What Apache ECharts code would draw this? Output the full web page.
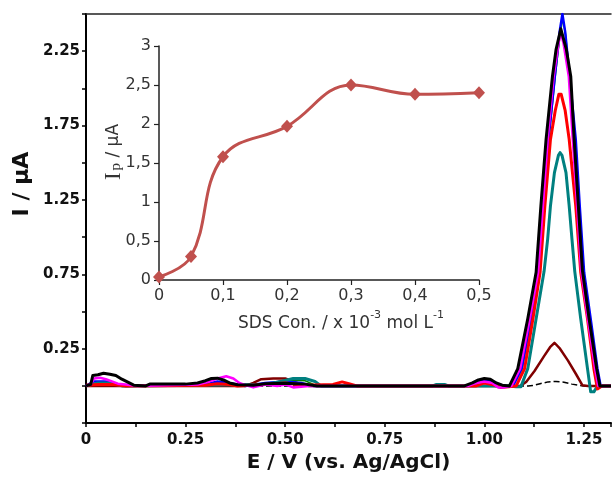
<!DOCTYPE html>
<html>
<head>
<meta charset="utf-8">
<script src="https://cdn.jsdelivr.net/npm/echarts@6/dist/echarts.min.js"></script>
<style>
  html, body { margin: 0; padding: 0; background: #fff; }
  #chart { width: 614px; height: 478px; }
</style>
</head>
<body>
<div id="chart"></div>
<script>
// Differential pulse voltammograms: [E / V, I / µA]
const scanBlank = [[0,0],[1.11,0],[1.121,0.002],[1.14,0.015],[1.16,0.027],[1.18,0.03],[1.2,0.025],[1.22,0.012],[1.235,0.005],[1.25,0],[1.318,0]];
const scanDarkRed = [[0,0],[0.4,0],[0.42,0.02],[0.44,0.045],[0.47,0.05],[0.5,0.05],[0.52,0.03],[0.54,0.01],[0.56,0],[1.09,0],[1.105,0.027],[1.126,0.1],[1.15,0.2],[1.165,0.26],[1.176,0.29],[1.19,0.25],[1.21,0.17],[1.23,0.08],[1.246,0.005],[1.26,0],[1.318,0]];
const scanGreen = [[0,0],[0.05,0.02],[0.1,0],[0.45,0.01],[0.5,0.04],[0.55,0.035],[0.58,0],[1.072,0],[1.095,0.116],[1.118,0.451],[1.138,0.764],[1.15,1.21],[1.162,1.657],[1.178,2.08],[1.19,2.36],[1.197,2.47],[1.204,2.36],[1.214,2.08],[1.228,1.657],[1.238,1.21],[1.249,0.764],[1.265,0.451],[1.282,0.116],[1.29,0],[1.318,0]];
const scanBlue = [[0,0],[0.02,0.03],[0.05,0.03],[0.08,0.01],[0.1,0],[0.3,0.01],[0.33,0.03],[0.36,0.02],[0.4,0],[0.45,0.02],[0.5,0.03],[0.54,0.02],[0.57,0],[0.96,0],[0.99,0.03],[1.01,0.035],[1.03,0.015],[1.05,0],[1.072,0],[1.094,0.116],[1.117,0.451],[1.137,0.764],[1.149,1.21],[1.161,1.657],[1.177,2.08],[1.189,2.38],[1.196,2.5],[1.203,2.38],[1.214,2.08],[1.2295,1.657],[1.2395,1.21],[1.2505,0.764],[1.267,0.451],[1.284,0.116],[1.292,0],[1.318,0]];
const scanTeal = [[0,0],[0.03,0.02],[0.06,0.02],[0.09,0],[0.45,0.01],[0.49,0.03],[0.52,0.05],[0.55,0.05],[0.575,0.03],[0.59,0],[0.87,0],[0.88,0.01],[0.9,0.01],[0.91,0],[1.06,0],[1.08,-0.005],[1.092,-0.005],[1.109,0.116],[1.13,0.451],[1.15,0.77],[1.159,0.987],[1.166,1.21],[1.176,1.434],[1.186,1.55],[1.19,1.568],[1.195,1.55],[1.205,1.434],[1.213,1.21],[1.22,0.987],[1.227,0.77],[1.242,0.451],[1.259,0.116],[1.267,-0.04],[1.275,-0.04],[1.284,0],[1.318,0]];
const scanRed = [[0,0.005],[0.03,0.01],[0.07,0.01],[0.1,0],[0.3,0.005],[0.33,0.015],[0.36,0.01],[0.38,0],[0.45,0.01],[0.5,0.02],[0.55,0.005],[0.62,0.01],[0.643,0.027],[0.66,0.015],[0.68,0],[0.98,0],[1.0,0.02],[1.02,0.01],[1.04,-0.01],[1.06,-0.005],[1.08,0],[1.101,0.116],[1.122,0.451],[1.14,0.764],[1.152,1.21],[1.166,1.657],[1.178,1.85],[1.187,1.96],[1.193,1.96],[1.203,1.85],[1.213,1.657],[1.2295,1.21],[1.242,0.764],[1.259,0.451],[1.275,0.116],[1.284,-0.02],[1.295,0],[1.318,0]];
const scanMagenta = [[0,0],[0.012,0.01],[0.02,0.05],[0.035,0.055],[0.05,0.045],[0.065,0.03],[0.08,0.015],[0.1,0.01],[0.13,0],[0.2,0.005],[0.28,0.01],[0.31,0.03],[0.33,0.05],[0.352,0.065],[0.37,0.05],[0.385,0.02],[0.4,0.005],[0.42,-0.01],[0.45,0.01],[0.48,0],[0.5,0.01],[0.52,-0.01],[0.56,0],[0.96,0],[0.98,0.02],[1.0,0.03],[1.02,0.02],[1.035,-0.01],[1.05,-0.01],[1.068,0],[1.09,0.116],[1.114,0.451],[1.135,0.764],[1.147,1.21],[1.159,1.657],[1.174,2.08],[1.186,2.3],[1.192,2.38],[1.199,2.3],[1.212,2.08],[1.222,1.657],[1.233,1.21],[1.243,0.78],[1.26,0.45],[1.278,0.116],[1.286,0],[1.318,0]];
const scanBlack = [[0,0],[0.012,0.01],[0.017,0.07],[0.03,0.075],[0.044,0.085],[0.06,0.078],[0.075,0.07],[0.09,0.045],[0.105,0.025],[0.12,0.005],[0.15,0],[0.16,0.012],[0.2,0.012],[0.25,0.012],[0.28,0.02],[0.3,0.035],[0.315,0.05],[0.33,0.052],[0.345,0.04],[0.36,0.02],[0.38,0.008],[0.42,0.005],[0.45,0.015],[0.5,0.018],[0.55,0.012],[0.58,0],[0.95,0],[0.97,0.02],[0.985,0.04],[1.0,0.05],[1.015,0.045],[1.03,0.02],[1.045,0.005],[1.063,0],[1.084,0.116],[1.109,0.451],[1.13,0.764],[1.142,1.21],[1.155,1.657],[1.171,2.08],[1.18,2.26],[1.192,2.4],[1.206,2.26],[1.217,2.08],[1.2255,1.657],[1.236,1.21],[1.246,0.78],[1.263,0.451],[1.282,0.116],[1.29,0],[1.318,0]];

// Peak current vs. SDS concentration (inset)
const sdsConc = [0, 0.05, 0.1, 0.2, 0.3, 0.4, 0.5];
const peakCurrent = [0.04, 0.30, 1.58, 1.97, 2.50, 2.38, 2.40];

// Tick labels
const mainXLabels = ['0', '0.25', '0.50', '0.75', '1.00', '1.25'];
const mainYLabels = ['0.25', '0.75', '1.25', '1.75', '2.25'];
const insetXLabels = ['0', '0,1', '0,2', '0,3', '0,4', '0,5'];
const insetYLabels = ['0', '0,5', '1', '1,5', '2', '2,5', '3'];

const scans = [
  { data: scanBlank,   color: '#000000', width: 1.5, type: 'dashed' },
  { data: scanDarkRed, color: '#800000', width: 2.5 },
  { data: scanGreen,   color: '#008000', width: 1.5 },
  { data: scanBlue,    color: '#0000ff', width: 2.5 },
  { data: scanTeal,    color: '#008080', width: 3 },
  { data: scanRed,     color: '#ff0000', width: 3 },
  { data: scanMagenta, color: '#ff00ff', width: 2.5 },
  { data: scanBlack,   color: '#000000', width: 3 }
];

const boldFont = { fontFamily: 'DejaVu Sans', fontWeight: 'bold', color: '#111' };
const insetFont = { fontFamily: 'DejaVu Sans', fontSize: 16, color: '#333' };

function pick(list, text) { return list.includes(text) ? text : ''; }

const chart = echarts.init(document.getElementById('chart'), null, { renderer: 'canvas' });

chart.setOption({
  animation: false,
  backgroundColor: '#fff',
  grid: [
    { left: 86, top: 14, right: 0, bottom: 53 },
    { left: 159, top: 46, width: 320, height: 234 }
  ],
  xAxis: [
    {
      gridIndex: 0, type: 'value', min: 0, max: 1.318, interval: 0.125,
      axisLine: { onZero: false, lineStyle: { color: '#000', width: 2 } },
      axisTick: { show: true, length: 4, lineStyle: { color: '#000', width: 1.5 } },
      axisLabel: Object.assign({ fontSize: 15, margin: 10,
        formatter: v => pick(mainXLabels, v === 0 ? '0' : v.toFixed(2)) }, boldFont),
      splitLine: { show: false },
      name: 'E / V (vs. Ag/AgCl)', nameLocation: 'middle', nameGap: 28,
      nameTextStyle: Object.assign({ fontSize: 20 }, boldFont)
    },
    {
      gridIndex: 0, type: 'value', position: 'top', min: 0, max: 1.318,
      axisLine: { onZero: false, lineStyle: { color: '#222', width: 1.5 } },
      axisTick: { show: false }, axisLabel: { show: false }, splitLine: { show: false }
    },
    {
      gridIndex: 1, type: 'value', min: 0, max: 0.5, interval: 0.1,
      axisLine: { onZero: false, lineStyle: { color: '#222', width: 1.5 } },
      axisTick: { show: true, length: 5, lineStyle: { color: '#222', width: 1.2 } },
      axisLabel: Object.assign({ margin: 8,
        formatter: v => pick(insetXLabels, String(+v.toFixed(2)).replace('.', ',')) }, insetFont),
      splitLine: { show: false },
      name: '{t|SDS Con. / x 10}{s|-3}{t| mol L}{s|-1}', nameLocation: 'middle', nameGap: 30,
      nameTextStyle: {
        fontFamily: 'DejaVu Sans', fontSize: 17, color: '#333', padding: [0, 0, 0, 44],
        rich: {
          t: { fontFamily: 'DejaVu Sans', fontSize: 17, color: '#333', lineHeight: 22, verticalAlign: 'bottom' },
          s: { fontFamily: 'DejaVu Sans', fontSize: 11, color: '#333', lineHeight: 11, verticalAlign: 'top' }
        }
      }
    }
  ],
  yAxis: [
    {
      gridIndex: 0, type: 'value', min: -0.25, max: 2.5, interval: 0.25,
      axisLine: { show: true, onZero: false, lineStyle: { color: '#000', width: 2 } },
      axisTick: { show: true, length: 4, lineStyle: { color: '#000', width: 1.5 } },
      axisLabel: Object.assign({ fontSize: 15, margin: 6,
        formatter: v => pick(mainYLabels, v.toFixed(2)) }, boldFont),
      splitLine: { show: false }
    },
    {
      gridIndex: 1, type: 'value', min: 0, max: 3, interval: 0.5,
      axisLine: { show: true, onZero: false, lineStyle: { color: '#222', width: 1.5 } },
      axisTick: { show: true, length: 5, lineStyle: { color: '#222', width: 1.2 } },
      axisLabel: Object.assign({ margin: 8,
        formatter: v => pick(insetYLabels, String(+v.toFixed(2)).replace('.', ',')) }, insetFont),
      splitLine: { show: false }
    }
  ],
  graphic: [
    {
      type: 'text', x: 22, y: 184, rotation: Math.PI / 2,
      style: { text: 'I / µA', font: 'bold 22px "DejaVu Sans"', fill: '#111',
               align: 'center', verticalAlign: 'middle', textAlign: 'center', textVerticalAlign: 'middle' }
    },
    {
      type: 'text', x: 114, y: 153, rotation: Math.PI / 2,
      style: {
        text: '{i|I}{p|p}{u| / µA}', fill: '#333',
        align: 'center', verticalAlign: 'middle', textAlign: 'center', textVerticalAlign: 'middle',
        rich: {
          i: { fontFamily: 'Liberation Serif', fontSize: 23, fill: '#333', lineHeight: 20, padding: [0, 2, 0, 2] },
          p: { fontFamily: 'Liberation Serif', fontSize: 15, fill: '#333', verticalAlign: 'bottom', lineHeight: 14 },
          u: { fontFamily: 'DejaVu Sans', fontSize: 17, fill: '#333', lineHeight: 20 }
        }
      }
    }
  ],
  series: scans.map(s => ({
    type: 'line', xAxisIndex: 0, yAxisIndex: 0, data: s.data,
    showSymbol: false, smooth: false, silent: true,
    lineStyle: { color: s.color, width: s.width, type: s.type || 'solid', join: 'round' }
  })).concat([{
    type: 'line', xAxisIndex: 2, yAxisIndex: 1,
    data: sdsConc.map((c, i) => [c, peakCurrent[i]]),
    smooth: 0.4, symbol: 'diamond', symbolSize: [12, 13],
    itemStyle: { color: '#c0504d' },
    lineStyle: { color: '#c0504d', width: 3 }
  }])
});
</script>
</body>
</html>
